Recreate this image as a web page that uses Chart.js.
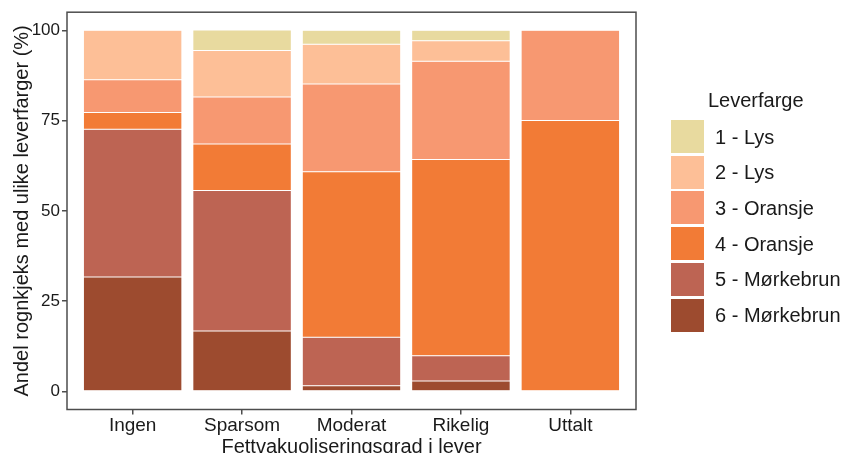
<!DOCTYPE html>
<html>
<head>
<meta charset="utf-8">
<script src="https://cdn.jsdelivr.net/npm/chart.js@4/dist/chart.umd.min.js"></script>
<style>
  body { margin: 0; background: #fff; }
  #wrap { position: relative; width: 844px; height: 453px; overflow: hidden; }
  #legend { position: absolute; left: 0; top: 0; font-family: "Liberation Sans", Arial, sans-serif; color: #1a1a1a; }
  #legend .title { position: absolute; left: 708px; top: 90px; font-size: 20px; line-height: 20px; white-space: nowrap; }
  #legend .row { position: absolute; left: 671px; height: 33px; display: flex; align-items: center; white-space: nowrap; }
  #legend .key { width: 33px; height: 33px; margin-right: 11px; }
  #legend .lbl { font-size: 20px; line-height: 20px; }
</style>
</head>
<body>
<div id="wrap">
  <canvas id="c" width="844" height="453"></canvas>
  <div id="legend"></div>
</div>
<script>
const categories = ["Ingen", "Sparsom", "Moderat", "Rikelig", "Uttalt"];
const levels = ["1 - Lys", "2 - Lys", "3 - Oransje", "4 - Oransje", "5 - Mørkebrun", "6 - Mørkebrun"];
const colors = ["#E8DA9F", "#FDBF97", "#F79871", "#F27B36", "#BD6453", "#9D4B2F"];

// percent per category, one array per liver colour
const lys1 = [0, 5.7, 3.9, 2.9, 0];
const lys2 = [13.7, 12.9, 11.0, 5.7, 0];
const oransje3 = [9.1, 13.0, 24.3, 27.2, 25];
const oransje4 = [4.6, 12.9, 45.8, 54.3, 75];
const brun5 = [40.9, 38.9, 13.4, 7.0, 0];
const brun6 = [31.7, 16.7, 1.6, 2.9, 0];
const yTicks = [0, 25, 50, 75, 100];

const series = [lys1, lys2, oransje3, oransje4, brun5, brun6];
const font = "'Liberation Sans', Arial, sans-serif";
const axisCol = "#4d4d4d";

// ggplot stacks level 1 on top, so bottom dataset is level 6
const datasets = [];
for (let i = series.length - 1; i >= 0; i--) {
  datasets.push({
    label: levels[i],
    data: series[i].map((v, j) => ({ x: j + 1, y: v })),
    backgroundColor: colors[i],
    borderColor: "rgba(255,255,255,0.4)",
    borderWidth: 0.5,
    borderSkipped: false,
    barPercentage: 0.9,
    categoryPercentage: 1.0,
  });
}

const panelBorder = {
  id: "panelBorder",
  afterDraw(chart) {
    const { ctx, chartArea: a } = chart;
    ctx.save();
    ctx.strokeStyle = axisCol;
    ctx.lineWidth = 1.5;
    ctx.strokeRect(a.left, a.top, a.right - a.left, a.bottom - a.top);
    ctx.restore();
  },
};

new Chart(document.getElementById("c"), {
  type: "bar",
  data: { datasets },
  plugins: [panelBorder],
  options: {
    responsive: false,
    animation: false,
    layout: { padding: { left: 0, top: 12, right: 208, bottom: 0 } },
    plugins: { legend: { display: false }, tooltip: { enabled: false } },
    scales: {
      x: {
        type: "linear",
        stacked: true,
        offset: false,
        min: 0.4,
        max: 5.6,
        afterBuildTicks: (s) => { s.ticks = categories.map((c, i) => ({ value: i + 1 })); },
        afterFit: (s) => { s.height = 43.5; },
        grid: { drawOnChartArea: false, offset: false, color: axisCol, tickLength: 5, lineWidth: 1.5 },
        border: { display: false },
        ticks: {
          callback: (v) => categories[v - 1],
          color: "#1a1a1a",
          font: { family: font, size: 19 },
          padding: 0,
          maxRotation: 0,
          autoSkip: false,
        },
        title: {
          display: true,
          text: "Fettvakuoliseringsgrad i lever",
          color: "#1a1a1a",
          font: { family: font, size: 20 },
          padding: { top: 0, bottom: -6 },
        },
      },
      y: {
        stacked: true,
        min: -5,
        max: 105,
        afterBuildTicks: (s) => { s.ticks = yTicks.map((v) => ({ value: v })); },
        afterFit: (s) => { s.width = 67; },
        grid: { drawOnChartArea: false, color: axisCol, tickLength: 5, lineWidth: 1.5 },
        border: { display: false },
        ticks: {
          color: "#1a1a1a",
          font: { family: font, size: 17 },
          padding: 2,
        },
        title: {
          display: true,
          text: "Andel rognkjeks med ulike leverfarger (%)",
          color: "#1a1a1a",
          font: { family: font, size: 20 },
          padding: { top: 10, bottom: 0 },
        },
      },
    },
  },
});

// legend as html, level 1 at the top
const legend = document.getElementById("legend");
const t = document.createElement("div");
t.className = "title";
t.textContent = "Leverfarge";
legend.appendChild(t);
levels.forEach((name, i) => {
  const row = document.createElement("div");
  row.className = "row";
  row.style.top = (120 + i * 35.7) + "px";
  row.innerHTML = `<div class="key" style="background:${colors[i]}"></div><div class="lbl">${name}</div>`;
  legend.appendChild(row);
});
</script>
</body>
</html>
